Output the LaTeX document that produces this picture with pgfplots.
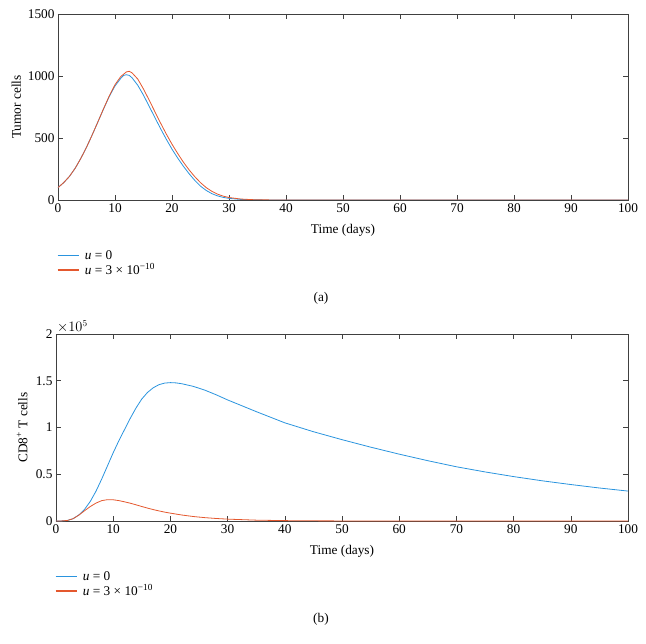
\documentclass[border=0pt]{standalone}
\usepackage{fontspec}
\setmainfont{Liberation Serif}
\usepackage{pgfplots}
\pgfplotsset{compat=1.18}
\definecolor{cblue}{RGB}{42,148,222}
\definecolor{cred}{RGB}{228,88,46}
\newcommand{\fs}{\fontsize{13.3}{15}\selectfont}
\pgfplotsset{
  myax/.style={
    scale only axis,
    xmin=0, xmax=100, xtick={0,10,...,100},
    tick align=inside,
    xtick pos=both, ytick pos=both,
    major tick length=5pt,
    axis line style={black!75, line width=0.6pt},
    every tick/.style={black!75, line width=0.6pt},
    /pgf/number format/assume math mode=true,
    /pgf/number format/1000 sep={},
    tick label style={font=\fs},
    label style={font=\fs},
    xlabel={Time (days)},
    xlabel style={at={(axis description cs:0.5,0)}, anchor=center, yshift=-30pt},
    legend cell align=left,
    legend style={draw=none, fill=none, font=\fs, row sep=-1pt,
      at={(axis description cs:0,0)}, anchor=north west, xshift=-4pt, yshift=-46pt},
  },
  blueleg/.style={legend image code/.code={\draw[cblue, line width=1.1pt] (0pt,0pt) -- (21pt,0pt); \path (25pt,0pt);}},
  redleg/.style={legend image code/.code={\draw[cred, line width=1.1pt] (0pt,0pt) -- (21pt,0pt); \path (25pt,0pt);}},
}
\begin{document}
\begin{tikzpicture}
\path[use as bounding box] (0,0) rectangle (646pt,-644pt);
\begin{axis}[myax, at={(58pt,-200pt)}, anchor=south west, width=570pt, height=186pt,
  ymin=0, ymax=1500, ytick={0,500,1000,1500},
  ylabel={Tumor cells},
  ylabel style={at={(axis description cs:-0.073,0.5)}, anchor=center, rotate=0}]
\addlegendimage{blueleg}
\addlegendentry{\textit{u} = 0}
\addlegendimage{redleg}
\addlegendentry{\textit{u} = 3 × 10\textsuperscript{−10}}
\addplot[cblue, line width=0.8pt, forget plot] coordinates {
(0,100)(1,140)(2,190)(3,255)(4,335)(5,425)(6,525)(7,630)(8,735)(9,835)(10,920)(11,980)(11.5,1005)(12,1010)(12.5,1005)(13,985)(14,925)(15,845)(16,755)(17,665)(18,575)(19,490)(20,410)(21,338)(22,272)(23,212)(24,158)(25,112)(26,77)(27,51)(28,33)(29,21)(30,13)(32,5)(34,2)(36,0.7)(40,0.1)(50,0)(60,0)(80,0)(100,0)};
\addplot[cred, line width=0.8pt, forget plot] coordinates {
(0,100)(1,140)(2,190)(3,255)(4,335)(5,425)(6,525)(7,630)(8,737)(9,840)(10,930)(11,995)(12,1033)(12.5,1038)(13,1025)(14,975)(15,895)(16,805)(17,712)(18,620)(19,532)(20,450)(21,375)(22,305)(23,243)(24,188)(25,140)(26,100)(27,70)(28,47)(29,31)(30,20)(32,8)(34,3)(36,1)(40,0.2)(50,0)(60,0)(80,0)(100,0)};
\end{axis}
\node[font=\fs] at (321pt,-298pt) {(a)};
\begin{axis}[myax, at={(56pt,-521pt)}, anchor=south west, width=572pt, height=187pt,
  ymin=0, ymax=200000, ytick={0,50000,100000,150000,200000},
  scaled y ticks=base 10:-5, tick scale binop=\times,
  every y tick scale label/.style={at={(axis description cs:0,1)}, anchor=south west, inner sep=1pt, font=\fs},
  ylabel={CD8\textsuperscript{+} T cells},
  ylabel style={at={(axis description cs:-0.059,0.5)}, anchor=center, rotate=0}]
\addlegendimage{blueleg}
\addlegendentry{\textit{u} = 0}
\addlegendimage{redleg}
\addlegendentry{\textit{u} = 3 × 10\textsuperscript{−10}}
\addplot[cblue, line width=0.8pt, forget plot] coordinates {
(0,0)(1,100)(2,600)(3,2500)(4,6500)(5,12500)(6,21000)(7,32000)(8,45000)(9,59000)(10,73000)(11,86000)(12,98000)(13,110000)(14,121000)(15,130500)(16,137500)(17,142500)(18,145800)(19,147500)(20,148000)(21,147700)(22,146800)(24,144000)(26,140000)(28,135000)(30,129500)(35,117000)(40,105000)(45,95500)(50,87000)(55,79000)(60,71500)(65,64500)(70,58000)(75,52500)(80,47500)(85,43000)(90,39000)(95,35300)(100,32000)};
\addplot[cred, line width=0.8pt, forget plot] coordinates {
(0,0)(1,100)(2,600)(3,2500)(4,6300)(5,11000)(6,15500)(7,19200)(8,21800)(9,22800)(10,22700)(11,21800)(12,20500)(13,19000)(14,17300)(15,15500)(16,13800)(17,12200)(18,10800)(19,9500)(20,8400)(22,6400)(24,4800)(26,3600)(28,2700)(30,2000)(35,900)(40,400)(45,180)(50,80)(60,15)(70,3)(80,0)(100,0)};
\end{axis}
\node[font=\fs] at (321pt,-619pt) {(b)};
\end{tikzpicture}
\end{document}
